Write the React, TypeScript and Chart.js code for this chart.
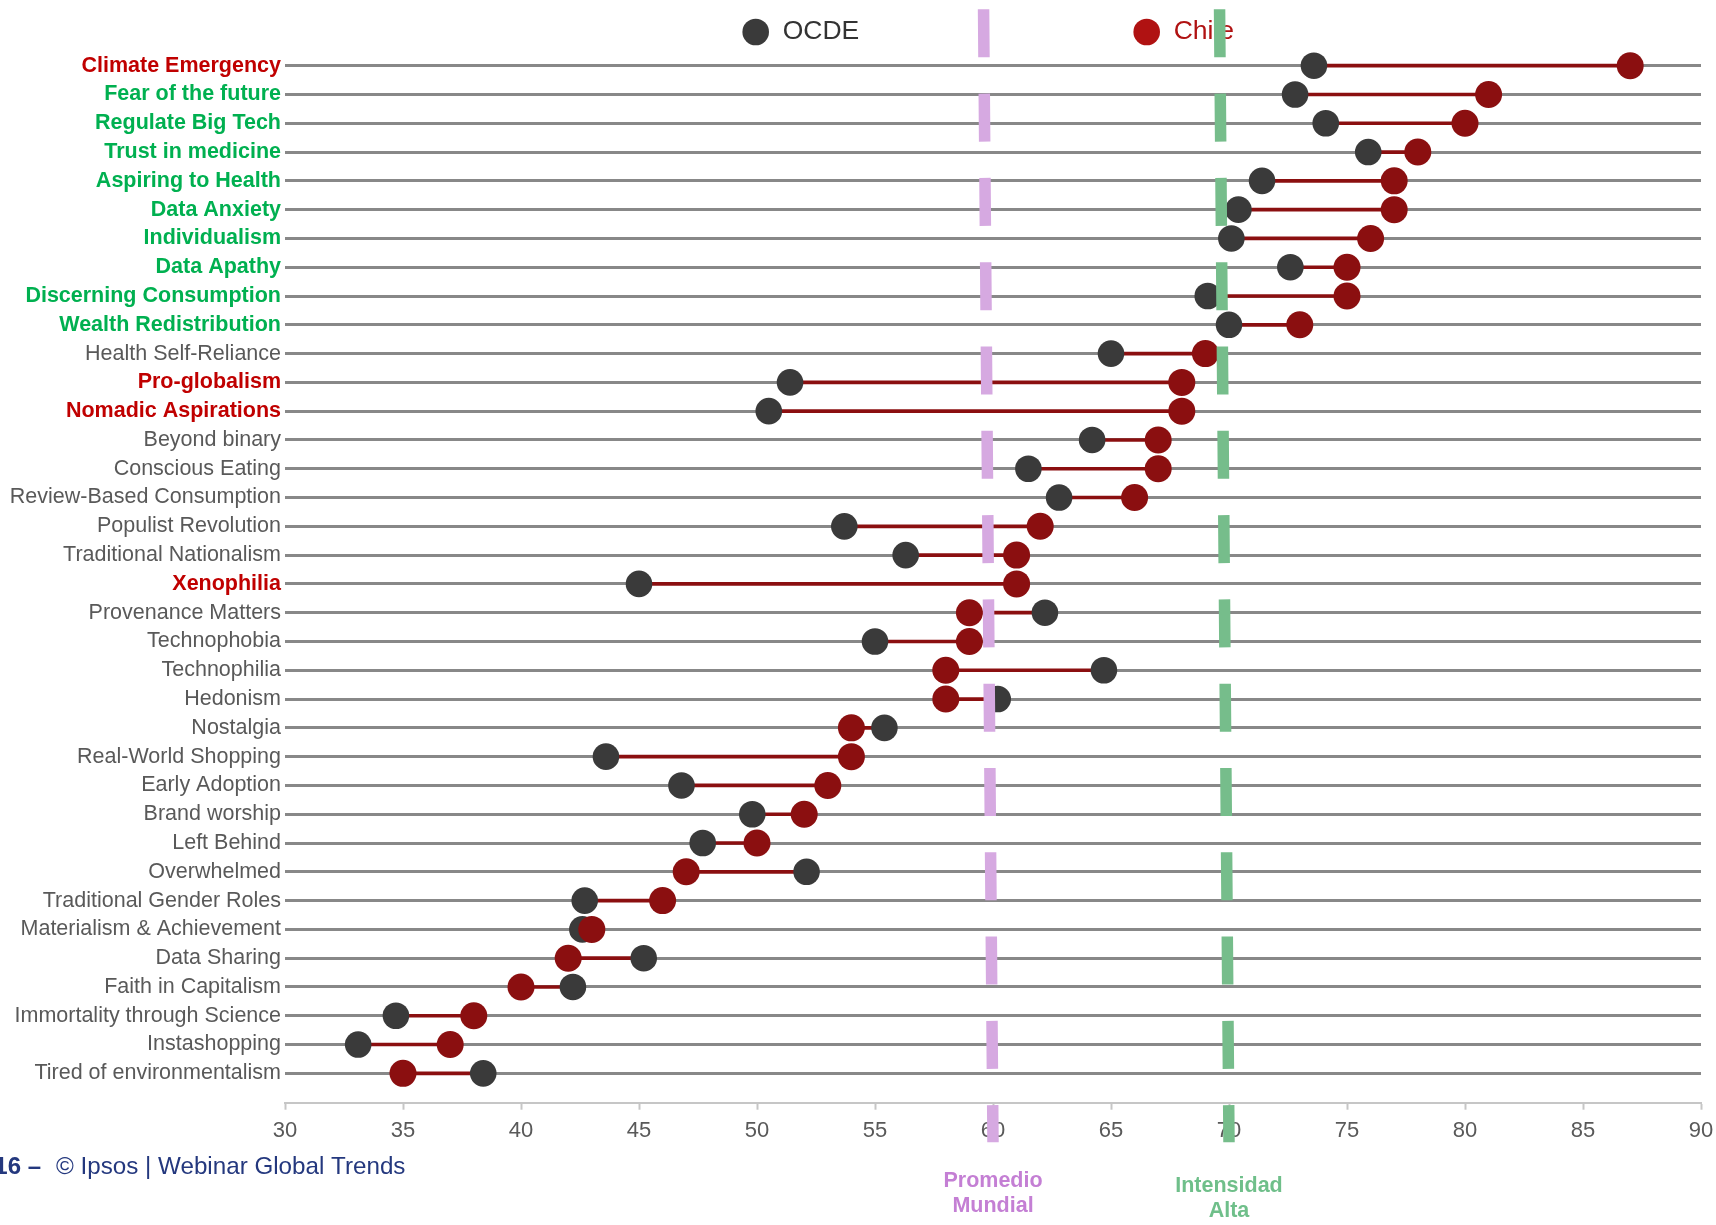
import React, { useEffect, useRef } from 'react';
import { Chart, registerables } from 'chart.js';

Chart.register(...registerables);

// ---------- DATA ----------
const categories = [
  'Climate Emergency',
  'Fear of the future',
  'Regulate Big Tech',
  'Trust in medicine',
  'Aspiring to Health',
  'Data Anxiety',
  'Individualism',
  'Data Apathy',
  'Discerning Consumption',
  'Wealth Redistribution',
  'Health Self-Reliance',
  'Pro-globalism',
  'Nomadic Aspirations',
  'Beyond binary',
  'Conscious Eating',
  'Review-Based Consumption',
  'Populist Revolution',
  'Traditional Nationalism',
  'Xenophilia',
  'Provenance Matters',
  'Technophobia',
  'Technophilia',
  'Hedonism',
  'Nostalgia',
  'Real-World Shopping',
  'Early Adoption',
  'Brand worship',
  'Left Behind',
  'Overwhelmed',
  'Traditional Gender Roles',
  'Materialism & Achievement',
  'Data Sharing',
  'Faith in Capitalism',
  'Immortality through Science',
  'Instashopping',
  'Tired of environmentalism',
];

// '' = normal, 'red' = highlighted negative, 'green' = highlighted positive
const labelGroups = [
  'red', 'green', 'green', 'green', 'green', 'green', 'green', 'green', 'green', 'green',
  '', 'red', 'red', '', '', '', '', '', 'red', '',
  '', '', '', '', '', '', '', '', '', '',
  '', '', '', '', '', '',
];

const ocdeValues = [
  73.6, 72.8, 74.1, 75.9, 71.4, 70.4, 70.1, 72.6, 69.1, 70.0,
  65.0, 51.4, 50.5, 64.2, 61.5, 62.8, 53.7, 56.3, 45.0, 62.2,
  55.0, 64.7, 60.2, 55.4, 43.6, 46.8, 49.8, 47.7, 52.1, 42.7,
  42.6, 45.2, 42.2, 34.7, 33.1, 38.4,
];

const chileValues = [
  87, 81, 80, 78, 77, 77, 76, 75, 75, 73,
  69, 68, 68, 67, 67, 66, 62, 61, 61, 59,
  59, 58, 58, 54, 54, 53, 52, 50, 47, 46,
  43, 42, 40, 38, 37, 35,
];

const seriesNames = ['OCDE', 'Chile'];
const xTickValues = [30, 35, 40, 45, 50, 55, 60, 65, 70, 75, 80, 85, 90];
const refValues = [60, 70];
const refLabels = [['Promedio', 'Mundial'], ['Intensidad', 'Alta']];
const footerNumber = '16 –';
const footerText = '© Ipsos | Webinar Global Trends';

// ---------- STYLE ----------
const W = 1716;
const H = 1225;
const FONT = "'Liberation Sans', Arial, Helvetica, sans-serif";
const OCDE_COLOR = '#3a3a3a';
const CHILE_COLOR = '#8b0f10';
const LEGEND_CHILE = '#b01212';
const GROUP_COLORS: Record<string, string> = { '': '#595959', red: '#c00000', green: '#00b050' };
const REF_COLORS = ['#d6a9e1', '#76bd8b'];
const REF_TEXT_COLORS = ['#c47fd4', '#6fbf8a'];
const REF_TILT = 0.4;

const overlayPlugin = {
  id: 'overlay',
  afterDraw(chart: any) {
    const { ctx } = chart;
    const xs = chart.scales.x;
    ctx.save();

    // legend
    const legendItems = [
      { x: 755.7, dot: OCDE_COLOR, text: seriesNames[0], tc: '#333333' },
      { x: 1146.7, dot: LEGEND_CHILE, text: seriesNames[1], tc: LEGEND_CHILE },
    ];
    legendItems.forEach((it) => {
      ctx.fillStyle = it.dot;
      ctx.beginPath();
      ctx.arc(it.x, 32, 13.3, 0, Math.PI * 2);
      ctx.fill();
      ctx.fillStyle = it.tc;
      ctx.font = `26.5px ${FONT}`;
      ctx.textAlign = 'left';
      ctx.textBaseline = 'middle';
      ctx.fillText(it.text, it.x + 27, 32);
    });

    // footer
    ctx.fillStyle = '#24387e';
    ctx.textBaseline = 'alphabetic';
    ctx.font = `bold 24px ${FONT}`;
    ctx.textAlign = 'right';
    ctx.fillText(footerNumber, 41, 1174);
    ctx.font = `24.2px ${FONT}`;
    ctx.textAlign = 'left';
    ctx.fillText(footerText, 56, 1174);

    // reference labels
    refValues.forEach((v, i) => {
      const px = xs.getPixelForValue(v);
      ctx.fillStyle = REF_TEXT_COLORS[i];
      ctx.font = `bold 21.5px ${FONT}`;
      ctx.textAlign = 'center';
      ctx.textBaseline = 'alphabetic';
      const base = i === 0 ? 1187.3 : 1191.7;
      ctx.fillText(refLabels[i][0], px, base);
      ctx.fillText(refLabels[i][1], px, base + 25);
    });

    // reference dashed lines
    refValues.forEach((v, i) => {
      const xb = xs.getPixelForValue(v);
      const xt = xs.getPixelForValue(v - REF_TILT);
      ctx.strokeStyle = REF_COLORS[i];
      ctx.lineWidth = 11.5;
      ctx.lineCap = 'butt';
      ctx.setLineDash([48, 36.3]);
      ctx.lineDashOffset = 0;
      ctx.beginPath();
      ctx.moveTo(xt, 9.3);
      ctx.lineTo(xb, 1142.3);
      ctx.stroke();
    });

    ctx.restore();
  },
};

export default function App() {
  const ref = useRef<HTMLCanvasElement>(null);

  useEffect(() => {
    document.body.style.margin = '0';
    if (!ref.current) return;

    const connectors = categories.map((_, i) => ({ y: i, x: [ocdeValues[i], chileValues[i]] }));
    const ocdePts = categories.map((_, i) => ({ x: ocdeValues[i], y: i }));
    const chilePts = categories.map((_, i) => ({ x: chileValues[i], y: i }));

    const chart = new Chart(ref.current, {
      type: 'scatter',
      data: {
        datasets: [
          {
            type: 'bar',
            label: 'gap',
            data: connectors as any,
            indexAxis: 'y',
            backgroundColor: CHILE_COLOR,
            borderWidth: 0,
            barThickness: 3,
            order: 3,
          } as any,
          {
            type: 'scatter',
            label: seriesNames[0],
            data: ocdePts,
            pointRadius: 13.3,
            pointHoverRadius: 13.3,
            pointBackgroundColor: OCDE_COLOR,
            pointBorderWidth: 0,
            order: 2,
          },
          {
            type: 'scatter',
            label: seriesNames[1],
            data: chilePts,
            pointRadius: 13.5,
            pointHoverRadius: 13.5,
            pointBackgroundColor: CHILE_COLOR,
            pointBorderWidth: 0,
            order: 1,
          },
        ],
      },
      options: {
        responsive: false,
        animation: false,
        devicePixelRatio: 1,
        events: [],
        layout: { padding: { top: 36.9, right: 15, bottom: 0, left: 0 } },
        plugins: {
          legend: { display: false },
          tooltip: { enabled: false },
        },
        scales: {
          x: {
            type: 'linear',
            min: 30,
            max: 90,
            offset: false,
            afterBuildTicks: (s: any) => {
              s.ticks = xTickValues.map((v) => ({ value: v }));
            },
            afterFit: (s: any) => {
              s.height = H - 1102.7;
              s.paddingLeft = 0;
              s.paddingRight = 0;
            },
            grid: {
              display: true,
              offset: false,
              drawOnChartArea: false,
              drawTicks: true,
              tickLength: 7,
              tickColor: '#c6c6c6',
              tickWidth: 2,
            },
            border: { display: true, color: '#c6c6c6', width: 2 },
            ticks: {
              color: '#595959',
              font: { family: FONT, size: 22 },
              padding: 8,
              maxRotation: 0,
              autoSkip: false,
            },
          },
          y: {
            type: 'linear',
            reverse: true,
            min: -1,
            max: 36.02,
            offset: false,
            afterBuildTicks: (s: any) => {
              s.ticks = categories.map((_, i) => ({ value: i }));
            },
            afterFit: (s: any) => {
              s.width = 285;
              s.paddingTop = 0;
              s.paddingBottom = 0;
            },
            grid: {
              color: '#888888',
              lineWidth: 3,
              drawTicks: false,
              offset: false,
            },
            border: { display: false },
            ticks: {
              autoSkip: false,
              padding: 4,
              callback: (v: any) => categories[v as number] ?? '',
              color: (c: any) => GROUP_COLORS[labelGroups[c.index]] || '#595959',
              font: (c: any) => ({
                family: FONT,
                size: 21.5,
                weight: labelGroups[c.index] ? 'bold' : 'normal',
              }),
            },
          },
        },
      },
      plugins: [overlayPlugin],
    } as any);

    return () => chart.destroy();
  }, []);

  return (
    <div style={{ width: W, height: H }}>
      <canvas ref={ref} width={W} height={H} style={{ display: 'block', width: W, height: H }} />
    </div>
  );
}
